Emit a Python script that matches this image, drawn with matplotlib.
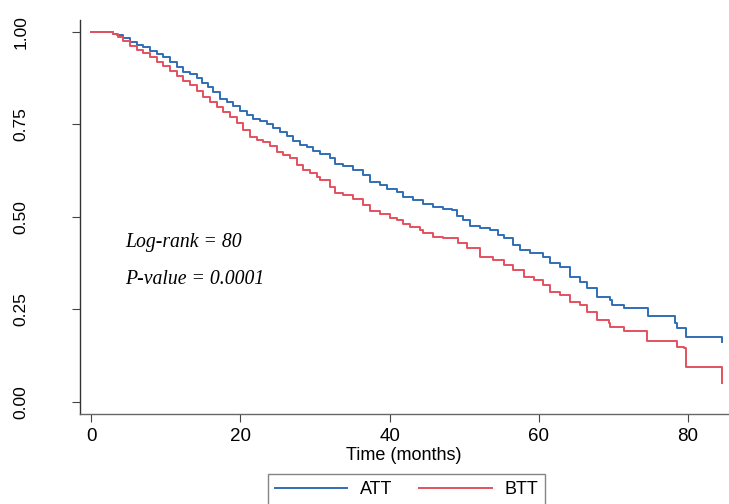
import matplotlib
matplotlib.use("Agg")
import matplotlib.pyplot as plt

# ---- data ----
att_time = [0, 2.95, 3.40, 4.29, 5.19, 6.08, 6.97, 7.87, 8.77, 9.65, 10.54, 11.45, 12.33,
            13.23, 14.13, 14.80, 15.68, 16.35, 17.25, 18.15, 19.03, 19.93, 20.83, 21.72,
            22.61, 23.51, 24.40, 25.29, 26.19, 27.08, 27.98, 28.87, 29.76, 30.66, 32.00,
            32.67, 33.78, 35.12, 36.46, 37.36, 38.70, 39.60, 40.94, 41.82, 43.16, 44.50,
            45.84, 47.18, 48.31, 48.98, 49.87, 50.76, 52.10, 53.44, 54.56, 55.30, 56.60,
            57.50, 58.80, 60.60, 61.50, 62.90, 64.20, 65.50, 66.40, 67.80, 69.60, 69.80,
            71.40, 74.70, 78.30, 78.50, 79.80]
att_surv = [1.000, 0.994, 0.991, 0.982, 0.973, 0.964, 0.958, 0.949, 0.940, 0.931, 0.919,
            0.905, 0.892, 0.885, 0.874, 0.861, 0.851, 0.838, 0.818, 0.811, 0.799, 0.786,
            0.775, 0.764, 0.759, 0.751, 0.739, 0.730, 0.719, 0.705, 0.694, 0.688, 0.678,
            0.669, 0.658, 0.642, 0.638, 0.626, 0.613, 0.595, 0.586, 0.574, 0.568, 0.554,
            0.545, 0.534, 0.527, 0.520, 0.518, 0.502, 0.491, 0.475, 0.469, 0.464, 0.451,
            0.442, 0.424, 0.410, 0.403, 0.392, 0.374, 0.365, 0.338, 0.324, 0.306, 0.284,
            0.275, 0.261, 0.252, 0.232, 0.212, 0.198, 0.174]
att_last_time = 84.6
att_last_surv = 0.162

btt_time = [0, 2.95, 3.62, 4.29, 5.19, 6.08, 6.97, 7.87, 8.77, 9.65, 10.54, 11.45, 12.33,
            13.23, 14.13, 15.01, 15.91, 16.81, 17.69, 18.59, 19.49, 20.38, 21.27, 22.17,
            23.06, 23.95, 24.85, 25.74, 26.64, 27.53, 28.42, 29.32, 30.21, 30.66, 32.00,
            32.67, 33.78, 35.12, 36.46, 37.36, 38.70, 40.04, 40.94, 41.82, 42.72, 44.06,
            44.50, 45.84, 47.18, 49.20, 50.32, 52.10, 53.90, 55.30, 56.60, 58.00, 59.30,
            60.60, 61.50, 62.90, 64.20, 65.50, 66.40, 67.80, 69.40, 69.60, 71.40, 74.50,
            78.50, 79.50, 79.80]
btt_surv = [1.000, 0.994, 0.986, 0.976, 0.961, 0.951, 0.942, 0.931, 0.919, 0.907, 0.895,
            0.880, 0.867, 0.856, 0.841, 0.824, 0.811, 0.796, 0.784, 0.769, 0.752, 0.734,
            0.715, 0.707, 0.703, 0.691, 0.676, 0.667, 0.658, 0.640, 0.626, 0.619, 0.608,
            0.599, 0.581, 0.565, 0.559, 0.547, 0.532, 0.516, 0.507, 0.496, 0.491, 0.480,
            0.471, 0.464, 0.455, 0.444, 0.442, 0.430, 0.415, 0.390, 0.383, 0.370, 0.356,
            0.338, 0.329, 0.315, 0.297, 0.288, 0.270, 0.261, 0.243, 0.221, 0.214, 0.203,
            0.191, 0.165, 0.149, 0.144, 0.095]
btt_last_time = 84.6
btt_last_surv = 0.050

series_labels = ["ATT", "BTT"]
x_ticks = [0, 20, 40, 60, 80]
y_ticks = [0.00, 0.25, 0.50, 0.75, 1.00]
y_ticklabels = ["0.00", "0.25", "0.50", "0.75", "1.00"]
annot = ["Log-rank = 80", "P-value = 0.0001"]

BLUE = "#2f6eb5"
RED = "#e3515f"
SANS = ["Liberation Sans", "DejaVu Sans"]
SERIF = ["Liberation Serif", "DejaVu Serif"]

fig = plt.figure(figsize=(7.29, 5.04), dpi=100)
ax = fig.add_axes([79.5 / 729, (504 - 414) / 504, 1 - 79.5 / 729, (414 - 20) / 504])


def draw(t, s, t_end, s_end, color, label):
    tt = list(t) + [t_end, t_end]
    ss = list(s) + [s[-1], s_end]
    ax.step(tt, ss, where="post", color=color, lw=1.4, label=label)


draw(att_time, att_surv, att_last_time, att_last_surv, BLUE, series_labels[0])
draw(btt_time, btt_surv, btt_last_time, btt_last_surv, RED, series_labels[1])

ax.set_xlim(-1.58, 85.5)
ax.set_ylim(-0.0332, 1.0316)

for side in ["top", "right"]:
    ax.spines[side].set_visible(False)
ax.spines["left"].set_color("#333333")
ax.spines["bottom"].set_color("#666666")
ax.spines["left"].set_linewidth(1.0)
ax.spines["bottom"].set_linewidth(1.0)

ax.set_xticks(x_ticks)
ax.set_xticklabels([str(v) for v in x_ticks], fontfamily=SANS, fontsize=13.5)
ax.set_yticks(y_ticks)
ax.set_yticklabels(y_ticklabels, fontfamily=SANS, fontsize=12.5, rotation=90, va="center")
ax.tick_params(axis="x", length=5.5, width=0.8, color="#444444", pad=4.5)
ax.tick_params(axis="y", length=5.5, width=0.8, color="#444444", pad=31)

ax.set_xlabel("Time (months)", fontfamily=SANS, fontsize=13)
ax.xaxis.set_label_coords((404 - 79.5) / (729 - 79.5), -0.083)

ax.text(4.6, 0.429, annot[0], fontfamily=SERIF, style="italic", fontsize=14.2, va="center", ha="left")
ax.text(4.6, 0.329, annot[1], fontfamily=SERIF, style="italic", fontsize=14.2, va="center", ha="left")

leg = fig.legend(loc="upper center", bbox_to_anchor=(406.5 / 729, 1 - 474 / 504), ncol=2,
                 prop={"family": SANS, "size": 13}, frameon=True, fancybox=False,
                 edgecolor="#666666", handlelength=4.0, handletextpad=0.7,
                 columnspacing=1.5, borderpad=0.4, borderaxespad=0)
leg.get_frame().set_linewidth(1.0)

fig.savefig("out.png", dpi=100)
